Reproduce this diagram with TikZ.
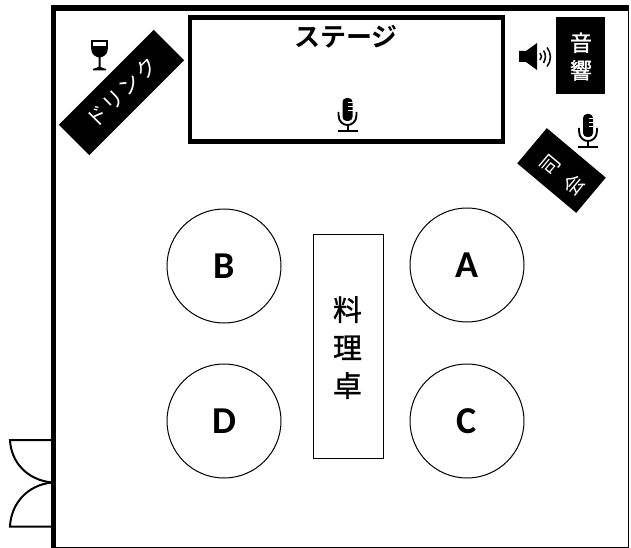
\documentclass[tikz,border=0pt]{standalone}
\usepackage{fontspec}
\setmainfont{Carlito}
\newfontfamily\jp{Noto Sans CJK JP}
\newfontfamily\jpb{Noto Sans CJK JP Bold}
\newfontfamily\jpm[FakeBold=1.2]{Noto Sans CJK JP}
\begin{document}
\begin{tikzpicture}[x=1pt,y=-1pt,
  thinline/.style={draw=black,line width=1pt},
  roundtable/.style={circle,thinline,minimum size=114pt,inner sep=0pt,font=\bfseries\fontsize{38}{38}\selectfont},
  banner/.style={fill=black,text=white,inner sep=0pt,font=\jp},
  doorline/.style={draw=black,line width=2pt},
  icon/.style={fill=black,draw=none}]
\useasboundingbox (0,0) rectangle (631,548);
\fill[white] (0,0) rectangle (631,548);
% room
\node[draw=black,line width=1pt,minimum width=575pt,minimum height=540pt,inner sep=0pt] (room) at (340.5,277.5) {};
\fill (50.5,5) rectangle (56,548);
\fill (50.5,5) rectangle (629,11);
% stage
\node[draw=black,line width=4.6pt,minimum width=313pt,minimum height=124.5pt,inner sep=0pt] (stage) at (346.5,79.5) {};
\node[font=\jpb\fontsize{26}{26}\selectfont] (stagelabel) at (346,37) {ステージ};
% tables
\node[roundtable] (B) at (224,266) {\raisebox{-1.5pt}{B}};
\node[roundtable] (A) at (467,265) {\raisebox{-1.5pt}{A}};
\node[roundtable] (D) at (224,421) {\raisebox{-1pt}{D}};
\node[roundtable] (C) at (467,421) {\raisebox{-1pt}{C}};
\node[thinline,minimum width=70pt,minimum height=224pt,inner sep=0pt] (food) at (348,346) {};
\node[align=center,font=\jpm\fontsize{29}{38}\selectfont] (foodtext) at (347.5,347.5) {料\\理\\卓};
% banners
\node[banner,rotate=45,minimum width=134pt,minimum height=43pt,font=\jp\fontsize{21}{21}\selectfont] (drink) at (121.5,92.5) {ド\hspace{2pt}リ\hspace{2pt}ン\hspace{2pt}ク};
\node[banner,rotate=50,minimum width=46pt,minimum height=77pt] (mc) at (561.5,170.5) {};
\node[rotate=50,text=white,align=center,font=\jp\fontsize{20}{31}\selectfont] (mctext) at (562.5,175) {司\\会};
\node[banner,minimum width=49pt,minimum height=77pt] (sound) at (580.5,55.5) {};
\node[text=white,align=center,font=\jpm\fontsize{22}{27.5}\selectfont] (soundtext) at (581,56.5) {音\\響};
% doors
\draw[doorline] (52,440) -- (10,440) .. controls (11,462) and (27,480) .. (52,482.5);
\draw[doorline] (52,526.5) -- (10,526.5) .. controls (11,504) and (27,485) .. (52,482.5);
% wine glass
\begin{scope}[shift={(99.5,41)}]
\fill (-8.3,-0.8) -- (8.3,-0.8) -- (8.3,8) .. controls (8.3,14) and (3,16) .. (1,16.3) -- (1,26) -- (6.5,28) -- (6.5,29.5) -- (-6.5,29.5) -- (-6.5,28) -- (-1,26) -- (-1,16.3) .. controls (-3,16) and (-8.3,14) .. (-8.3,8) -- cycle;
\fill[white] (-6.3,1) rectangle (6.3,5.5);
\end{scope}
% microphones
\foreach \mx/\my in {347.5/98,588/114}{
\begin{scope}[shift={(\mx,\my)}]
\fill[rounded corners=4pt] (-5,0) rectangle (5,23);
\foreach \t in {4,8,12}{\fill[white] (0.5,\t) rectangle (5.2,\t+1.4);}
\draw[line width=1.9pt] (-9,14) -- (-9,17) .. controls (-9,24) and (-4,27) .. (0,27) .. controls (4,27) and (9,24) .. (9,17) -- (9,14);
\draw[line width=2pt] (0,27) -- (0,33);
\draw[line width=2pt] (-10,33.5) -- (10,33.5);
\end{scope}}
% speaker
\begin{scope}[shift={(519,43)}]
\fill (0,8) -- (7,8) -- (18,0) -- (18,27) -- (7,19) -- (0,19) -- cycle;
\draw[line width=1.5pt] (21,10) .. controls (23,12) and (23,15) .. (21,17);
\draw[line width=1.5pt] (24.5,7.5) .. controls (27,11) and (27,16) .. (24.5,20);
\draw[line width=1.5pt] (28,4.5) .. controls (32.5,10) and (32.5,18) .. (28,23.5);
\end{scope}
\end{tikzpicture}
\end{document}
